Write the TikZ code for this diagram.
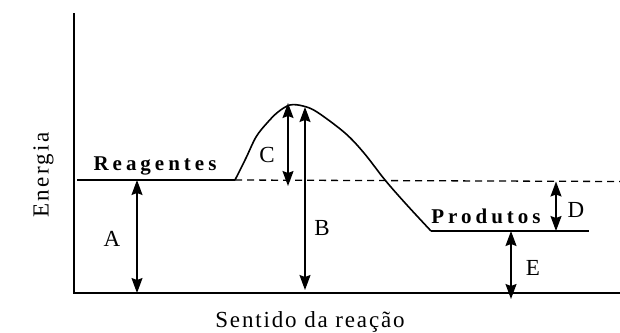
\documentclass[tikz,border=0pt]{standalone}
\usepackage{fontspec}
\setmainfont{Liberation Serif}
\newfontfamily\axisfont[LetterSpace=8]{Liberation Serif}
\newfontfamily\energyfont[LetterSpace=10]{Liberation Serif}
\newfontfamily\statefont[LetterSpace=19]{Liberation Serif}
\usetikzlibrary{arrows.meta}
\tikzset{
  axisline/.style={line width=1.6pt},
  levelline/.style={line width=1.5pt},
  dashline/.style={line width=1.3pt, dash pattern=on 7pt off 5pt},
  curveline/.style={line width=1.6pt, line join=round},
  dimarrow/.style={line width=1.5pt, {Stealth[length=15pt,width=11pt,inset=2pt]}-{Stealth[length=15pt,width=11pt,inset=2pt]}},
  letter/.style={inner sep=0pt, anchor=base, font=\fontsize{23}{27}\selectfont},
  statelabel/.style={inner sep=0pt, anchor=base, font=\statefont\bfseries\fontsize{21}{25}\selectfont},
}
\begin{document}
\begin{tikzpicture}[x=1pt,y=-1pt]
\useasboundingbox (0,0) rectangle (620,332);
% axes
\coordinate (ytop) at (74,13);
\coordinate (origin) at (74,293);
\coordinate (xend) at (620,293);
\draw[axisline] (ytop) -- (origin) -- (xend);
% levels
\coordinate (r0) at (77,180);
\coordinate (r1) at (235,180);
\coordinate (dend) at (620,181.5);
\coordinate (p0) at (431,231);
\coordinate (p1) at (589,231);
\draw[levelline] (r0) -- (r1);
\draw[dashline] (r1) -- (dend);
\draw[levelline] (p0) -- (p1);
% curve
\draw[curveline] plot[smooth, tension=0.55] coordinates {(235,180) (246,158) (256,137) (267,123) (278,112) (290,105) (303,106) (317,112) (345,133) (364,153) (385,180) (406,204) (431,231)};
% arrows
\coordinate (a1) at (137,180);
\coordinate (a0) at (137,293);
\coordinate (c1) at (288,103);
\coordinate (c0) at (288,186);
\coordinate (b1) at (305,107);
\coordinate (b0) at (305,290);
\coordinate (d1) at (556,181.5);
\coordinate (d0) at (556,231);
\coordinate (e1) at (511,231);
\coordinate (e0) at (511,299);
\draw[dimarrow] (a1) -- (a0);
\draw[dimarrow] (c1) -- (c0);
\draw[dimarrow] (b1) -- (b0);
\draw[dimarrow] (d1) -- (d0);
\draw[dimarrow] (e1) -- (e0);
% labels
\node[letter] (la) at (112,246) {A};
\node[letter] (lb) at (322,235) {B};
\node[letter] (lc) at (267,162) {C};
\node[letter] (ld) at (576,217) {D};
\node[letter] (le) at (533,275) {E};
\node[statelabel] (reag) at (155,170.5) {Reagentes};
\node[statelabel] (prod) at (486,223) {Produtos};
\node[inner sep=0pt, anchor=base, font=\axisfont\fontsize{23}{27}\selectfont] (xlab) at (310,327) {Sentido da reação};
\node[inner sep=0pt, anchor=base, rotate=90, font=\energyfont\fontsize{23}{27}\selectfont] (ylab) at (48.5,175) {Energia};
\end{tikzpicture}
\end{document}
